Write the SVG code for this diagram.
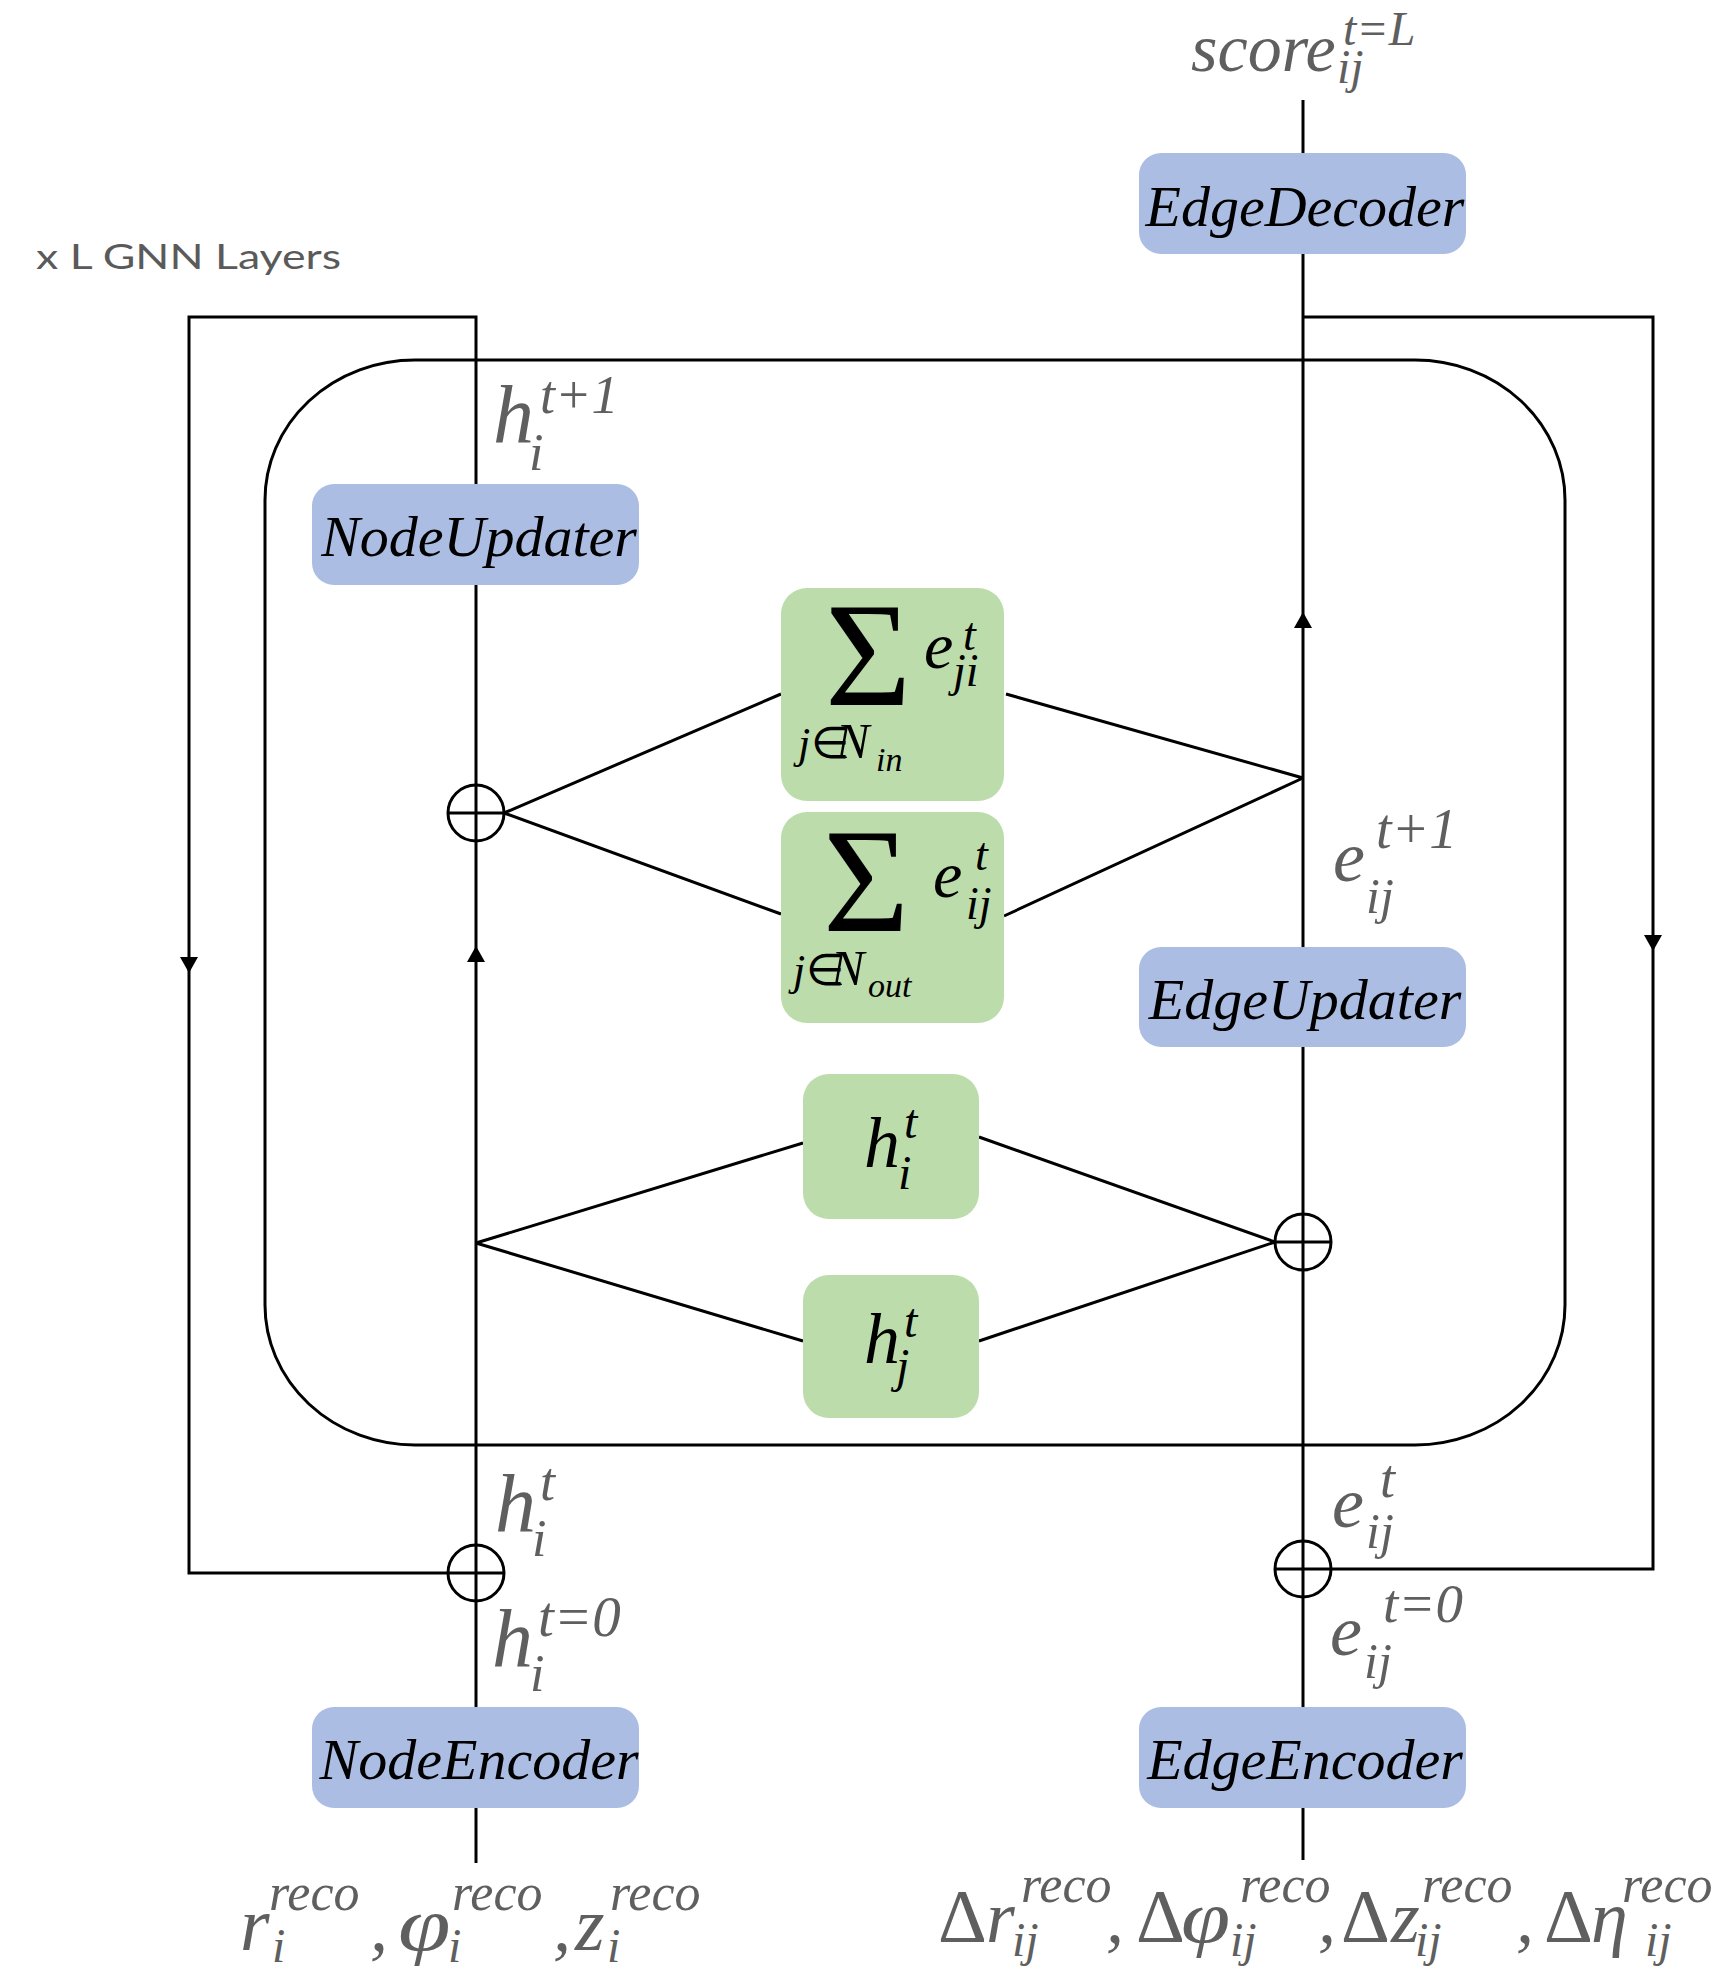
<svg xmlns="http://www.w3.org/2000/svg" xmlns:xlink="http://www.w3.org/1999/xlink" width="1725" height="1971" viewBox="0 0 1725 1971">
<style>
.ln{fill:none;stroke:#000;stroke-width:3}
.blue{fill:#abbde2}
.green{fill:#bcdcab}
.bt{font-family:"Liberation Serif","Times New Roman",serif;font-style:italic;font-size:58px;fill:#000;text-anchor:middle}
.m{font-family:"Liberation Serif","Times New Roman",serif;font-style:italic;fill:#5f5f5f}
.k{font-family:"Liberation Serif","Times New Roman",serif;font-style:italic;fill:#000}
.up{font-style:normal}
.cap{font-family:Lato,"Open Sans",sans-serif;font-size:34px;fill:#5a5a5a}
</style>
<defs>
<path id="arr" d="M0,-8 L9,8 L-9,8 Z" fill="#000"/>
<g id="oplus"><circle r="28" fill="none" stroke="#000" stroke-width="3"/><line x1="-28" y1="0" x2="28" y2="0" stroke="#000" stroke-width="3"/></g>
</defs>
<rect width="1725" height="1971" fill="#fff"/>
<text class="cap" x="36" y="269" textLength="305" lengthAdjust="spacingAndGlyphs">x L GNN Layers</text>
<rect id="layer-frame" x="265" y="360" width="1300" height="1085" rx="150" ry="140" class="ln"/>
<g id="connectors">
<path class="ln" d="M476,484 V317 H189 V1573 H448"/>
<path class="ln" d="M476,585 V1707"/>
<path class="ln" d="M476,1808 V1863"/>
<path class="ln" d="M504,813 L781,694 M504,813 L781,914"/>
<path class="ln" d="M476,1243 L803,1143 M476,1243 L803,1341"/>
<path class="ln" d="M1303,100 V153"/>
<path class="ln" d="M1303,254 V947"/>
<path class="ln" d="M1303,317 H1653 V1569 H1331"/>
<path class="ln" d="M1303,1047 V1707"/>
<path class="ln" d="M1303,1808 V1860"/>
<path class="ln" d="M1006,694 L1303,778 M1004,916 L1303,778"/>
<path class="ln" d="M979,1137 L1275,1242 M979,1341 L1275,1242"/>
<use xlink:href="#oplus" x="476" y="813"/>
<use xlink:href="#oplus" x="476" y="1573"/>
<use xlink:href="#oplus" x="1303" y="1242"/>
<use xlink:href="#oplus" x="1303" y="1569"/>
<use xlink:href="#arr" transform="translate(476,954)"/>
<use xlink:href="#arr" transform="translate(1303,620)"/>
<use xlink:href="#arr" transform="translate(189,965) rotate(180)"/>
<use xlink:href="#arr" transform="translate(1653,943) rotate(180)"/>
</g>
<g id="edge-decoder"><rect class="blue" x="1139" y="153" width="327" height="101" rx="22"/><text class="bt" x="1305" y="226" font-size="59">EdgeDecoder</text></g>
<g id="node-updater"><rect class="blue" x="312" y="484" width="327" height="101" rx="22"/><text class="bt" x="479" y="556">NodeUpdater</text></g>
<g id="edge-updater"><rect class="blue" x="1139" y="947" width="327" height="100" rx="22"/><text class="bt" x="1305" y="1019" font-size="59">EdgeUpdater</text></g>
<g id="node-encoder"><rect class="blue" x="312" y="1707" width="327" height="101" rx="22"/><text class="bt" x="479" y="1779">NodeEncoder</text></g>
<g id="edge-encoder"><rect class="blue" x="1139" y="1707" width="327" height="101" rx="22"/><text class="bt" x="1305" y="1779">EdgeEncoder</text></g>
<g id="sum-in">
<rect class="green" x="781" y="588" width="223" height="213" rx="26"/>
<text class="k"><tspan class="up" x="825" y="705" font-size="148">Σ</tspan><tspan x="924" y="668" font-size="66">e</tspan><tspan x="963" y="650" font-size="46">t</tspan><tspan x="953" y="686" font-size="46">ji</tspan><tspan x="798" y="758" font-size="44">j</tspan><tspan class="up" x="811" y="758" font-size="44">∈</tspan><tspan x="836" y="758" font-size="50">N</tspan><tspan x="876" y="771" font-size="34">in</tspan></text>
</g>
<g id="sum-out">
<rect class="green" x="781" y="812" width="223" height="211" rx="26"/>
<text class="k"><tspan class="up" x="823" y="931" font-size="148">Σ</tspan><tspan x="933" y="897" font-size="66">e</tspan><tspan x="975" y="870" font-size="46">t</tspan><tspan x="966" y="919" font-size="46">ij</tspan><tspan x="793" y="985" font-size="44">j</tspan><tspan class="up" x="806" y="985" font-size="44">∈</tspan><tspan x="831" y="985" font-size="50">N</tspan><tspan x="868" y="997" font-size="34">out</tspan></text>
</g>
<g id="h-i">
<rect class="green" x="803" y="1074" width="176" height="145" rx="26"/>
<text class="k"><tspan x="864" y="1167" font-size="72">h</tspan><tspan x="904" y="1138" font-size="48">t</tspan><tspan x="898" y="1189" font-size="48">i</tspan></text>
</g>
<g id="h-j">
<rect class="green" x="803" y="1275" width="176" height="143" rx="26"/>
<text class="k"><tspan x="864" y="1363" font-size="72">h</tspan><tspan x="904" y="1337" font-size="48">t</tspan><tspan x="896" y="1382" font-size="48">j</tspan></text>
</g>
<g id="labels">
<text class="m"><tspan x="1191" y="71" font-size="68">score</tspan><tspan x="1343" y="45" font-size="48">t=L</tspan><tspan x="1337" y="83" font-size="48">ij</tspan></text>
<text class="m"><tspan x="493" y="442" font-size="82">h</tspan><tspan x="540" y="413" font-size="54">t+1</tspan><tspan x="529" y="470" font-size="52">i</tspan></text>
<text class="m"><tspan x="1333" y="881" font-size="72">e</tspan><tspan x="1376" y="848" font-size="56">t+1</tspan><tspan x="1366" y="913" font-size="50">ij</tspan></text>
<text class="m"><tspan x="495" y="1531" font-size="82">h</tspan><tspan x="540" y="1500" font-size="54">t</tspan><tspan x="532" y="1556" font-size="52">i</tspan></text>
<text class="m"><tspan x="492" y="1666" font-size="82">h</tspan><tspan x="538" y="1636" font-size="57">t=0</tspan><tspan x="530" y="1691" font-size="52">i</tspan></text>
<text class="m"><tspan x="1332" y="1527" font-size="72">e</tspan><tspan x="1380" y="1497" font-size="54">t</tspan><tspan x="1366" y="1548" font-size="50">ij</tspan></text>
<text class="m"><tspan x="1330" y="1655" font-size="72">e</tspan><tspan x="1383" y="1622" font-size="55">t=0</tspan><tspan x="1364" y="1678" font-size="50">ij</tspan></text>
</g>
<g id="node-inputs">
<text class="m"><tspan x="240" y="1950" font-size="76">r</tspan><tspan x="269" y="1910" font-size="52">reco</tspan><tspan x="272" y="1962" font-size="48">i</tspan><tspan x="370" y="1950" font-size="72">,</tspan><tspan x="452" y="1910" font-size="52">reco</tspan><tspan x="448" y="1962" font-size="48">i</tspan><tspan x="553" y="1950" font-size="72">,</tspan><tspan x="575" y="1950" font-size="76">z</tspan><tspan x="610" y="1910" font-size="52">reco</tspan><tspan x="607" y="1962" font-size="48">i</tspan></text>
<text class="m" font-size="76" transform="translate(398,1950) scale(1.25,1)">φ</text>
</g>
<g id="edge-inputs">
<text class="m"><tspan class="up" x="938" y="1942" font-size="76">Δ</tspan><tspan x="986" y="1942" font-size="74">r</tspan><tspan x="1021" y="1902" font-size="52">reco</tspan><tspan x="1012" y="1956" font-size="48">ij</tspan><tspan x="1106" y="1942" font-size="72">,</tspan><tspan class="up" x="1136" y="1942" font-size="76">Δ</tspan><tspan x="1240" y="1902" font-size="52">reco</tspan><tspan x="1230" y="1956" font-size="48">ij</tspan><tspan x="1318" y="1942" font-size="72">,</tspan><tspan class="up" x="1341" y="1942" font-size="76">Δ</tspan><tspan x="1391" y="1942" font-size="74">z</tspan><tspan x="1422" y="1902" font-size="52">reco</tspan><tspan x="1415" y="1956" font-size="48">ij</tspan><tspan x="1516" y="1942" font-size="72">,</tspan><tspan class="up" x="1544" y="1942" font-size="76">Δ</tspan><tspan x="1591" y="1942" font-size="74">η</tspan><tspan x="1622" y="1902" font-size="52">reco</tspan><tspan x="1645" y="1956" font-size="48">ij</tspan></text>
<text class="m" font-size="74" transform="translate(1181,1942) scale(1.2,1)">φ</text>
</g>
</svg>
